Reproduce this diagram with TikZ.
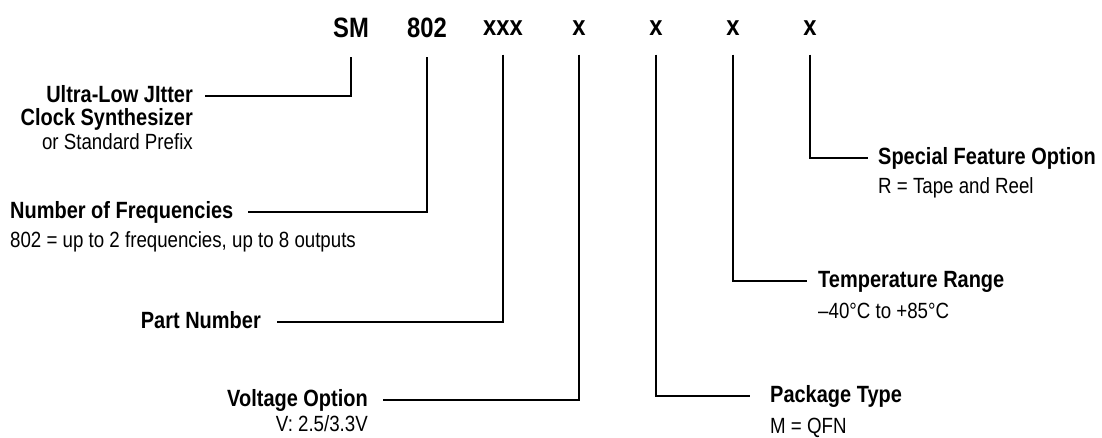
\documentclass[tikz,border=0pt]{standalone}
\usepackage{fontspec}
\setmainfont{Liberation Sans}[FakeStretch=0.85]
\usepackage{tikz}
\usetikzlibrary{positioning}

\tikzset{
  code/.style={font=\fontsize{28}{32}\selectfont\bfseries, inner sep=0pt},
  title/.style={font=\fontsize{23.5}{26}\selectfont\bfseries, inner sep=0pt,
    text height=17pt, text depth=4pt},
  desc/.style={font=\fontsize{22}{26}\selectfont, inner sep=0pt,
    text height=16pt, text depth=4.5pt},
  lead/.style={line width=2pt}
}

\begin{document}
\begin{tikzpicture}[x=1pt, y=-1pt]
\useasboundingbox (0,0) rectangle (1102,438);

% part number fields
\node[code] (sm)   at (351,28) {SM};
\node[code] (freq) at (427,28) {802};
\node[code] (part) at (503,28) {xxx};
\node[code] (volt) at (579,28) {x};
\node[code] (pack) at (656,28) {x};
\node[code] (temp) at (733,28) {x};
\node[code] (spec) at (810,28) {x};

% descriptions, left side
\node[title, anchor=east] (ultra) at (193,96) {Ultra-Low JItter};
\node[title, anchor=east] (clock) at (193,119) {Clock Synthesizer};
\node[desc, anchor=east] (prefix) at (193,144) {or Standard Prefix};
\node[title, anchor=west] (nfreq) at (10,212) {Number of Frequencies};
\node[desc, anchor=west] (nfreqd) at (10,242) {802 = up to 2 frequencies, up to 8 outputs};
\node[title, anchor=east] (pnum) at (261,322) {Part Number};
\node[title, anchor=east] (vopt) at (368,400) {Voltage Option};
\node[desc, anchor=east] (voptd) at (368,426) {V: 2.5/3.3V};

% descriptions, right side
\node[title, anchor=west] (ptype) at (770,396) {Package Type};
\node[desc, anchor=west] (ptyped) at (770,428) {M = QFN};
\node[title, anchor=west] (trange) at (818,281) {Temperature Range};
\node[desc, anchor=west] (tranged) at (818,313) {--40°C to +85°C};
\node[title, anchor=west] (sfeat) at (878,158) {Special Feature Option};
\node[desc, anchor=west] (sfeatd) at (878,188) {R = Tape and Reel};

% leader lines
\draw[lead] ([yshift=-19pt]sm.south) |- ([xshift=12pt]ultra.east);
\draw[lead] ([yshift=-19pt]freq.south) |- ([xshift=14pt]nfreq.east);
\draw[lead] ([yshift=-19pt]part.south) |- ([xshift=16pt]pnum.east);
\draw[lead] ([yshift=-19pt]volt.south) |- ([xshift=15pt]vopt.east);
\draw[lead] ([yshift=-19pt]pack.south) |- ([xshift=-20pt]ptype.west);
\draw[lead] ([yshift=-19pt]temp.south) |- ([xshift=-11pt]trange.west);
\draw[lead] ([yshift=-19pt]spec.south) |- ([xshift=-10pt]sfeat.west);
\end{tikzpicture}
\end{document}
